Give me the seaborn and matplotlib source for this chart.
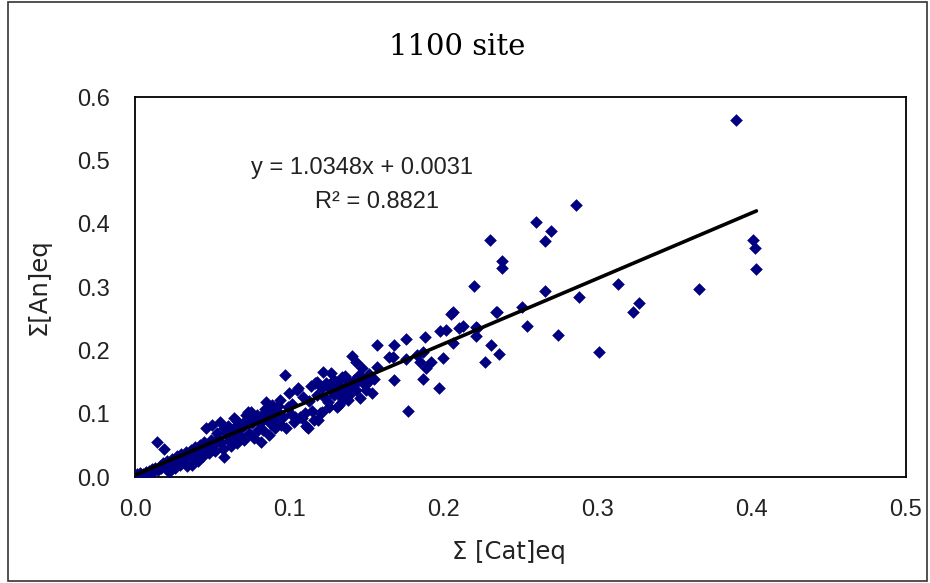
import numpy as np
import pandas as pd
import matplotlib
matplotlib.use("Agg")
import matplotlib.pyplot as plt
import seaborn as sns
from matplotlib.patches import Rectangle

# sum of cations vs sum of anions (eq)
cat_eq = [0.001, 0.002, 0.003, 0.004, 0.005, 0.006, 0.007, 0.008, 0.009, 0.010,
          0.011, 0.012, 0.013, 0.014, 0.015, 0.016, 0.017, 0.018, 0.019, 0.020,
          0.021, 0.022, 0.023, 0.024, 0.025, 0.026, 0.027, 0.028, 0.029, 0.030,
          0.031, 0.032, 0.033, 0.034, 0.035, 0.036, 0.037, 0.038, 0.039, 0.040,
          0.041, 0.042, 0.043, 0.044, 0.045, 0.046, 0.047, 0.048, 0.049, 0.050,
          0.051, 0.052, 0.053, 0.054, 0.055, 0.056, 0.057, 0.058, 0.059, 0.060,
          0.061, 0.062, 0.063, 0.064, 0.065, 0.066, 0.067, 0.068, 0.069, 0.070,
          0.071, 0.072, 0.073, 0.074, 0.075, 0.076, 0.077, 0.078, 0.079, 0.080,
          0.081, 0.082, 0.083, 0.084, 0.085, 0.086, 0.087, 0.088, 0.089, 0.090,
          0.091, 0.092, 0.094, 0.095, 0.096, 0.097, 0.098, 0.099, 0.100, 0.101,
          0.103, 0.104, 0.105, 0.106, 0.107, 0.108, 0.109, 0.110, 0.111, 0.112,
          0.114, 0.116, 0.117, 0.118, 0.119, 0.120, 0.121, 0.122, 0.123, 0.124,
          0.125, 0.126, 0.127, 0.129, 0.129, 0.131, 0.131, 0.132, 0.132, 0.134,
          0.134, 0.135, 0.136, 0.137, 0.138, 0.139, 0.140, 0.141, 0.142, 0.143,
          0.144, 0.145, 0.146, 0.147, 0.148, 0.150, 0.151, 0.154, 0.157, 0.157,
          0.165, 0.167, 0.168, 0.168, 0.176, 0.176, 0.177, 0.183, 0.185, 0.187,
          0.187, 0.188, 0.189, 0.192, 0.197, 0.198, 0.200, 0.202, 0.205, 0.206,
          0.206, 0.210, 0.213, 0.220, 0.221, 0.221, 0.222, 0.227, 0.230, 0.231,
          0.234, 0.235, 0.236, 0.238, 0.238, 0.251, 0.254, 0.260, 0.266, 0.266,
          0.270, 0.274, 0.286, 0.288, 0.301, 0.313, 0.323, 0.327, 0.366, 0.390,
          0.401, 0.402, 0.403,
          0.102, 0.113, 0.115, 0.118, 0.121, 0.126, 0.128, 0.133, 0.139, 0.143,
          0.149, 0.152, 0.155, 0.058, 0.066, 0.072, 0.083, 0.088, 0.093]
an_eq = [0.004, 0.000, 0.006, 0.002, 0.005, 0.001, 0.008, 0.004, 0.010, 0.007,
         0.013, 0.009, 0.015, 0.056, 0.011, 0.018, 0.014, 0.022, 0.045, 0.016,
         0.025, 0.008, 0.020, 0.029, 0.024, 0.014, 0.033, 0.027, 0.019, 0.036,
         0.031, 0.023, 0.039, 0.017, 0.034, 0.043, 0.019, 0.029, 0.047, 0.038,
         0.026, 0.051, 0.042, 0.033, 0.055, 0.077, 0.046, 0.038, 0.059, 0.082,
         0.050, 0.041, 0.069, 0.062, 0.087, 0.054, 0.045, 0.032, 0.070, 0.080,
         0.058, 0.049, 0.074, 0.093, 0.066, 0.054, 0.084, 0.064, 0.077, 0.080,
         0.058, 0.090, 0.103, 0.069, 0.103, 0.086, 0.062, 0.094, 0.098, 0.074,
         0.085, 0.055, 0.074, 0.108, 0.119, 0.090, 0.066, 0.100, 0.113, 0.090,
         0.078, 0.105, 0.122, 0.082, 0.095, 0.161, 0.077, 0.110, 0.132, 0.100,
         0.087, 0.095, 0.137, 0.140, 0.095, 0.093, 0.127, 0.101, 0.080, 0.077,
         0.143, 0.090, 0.148, 0.150, 0.090, 0.101, 0.102, 0.166, 0.125, 0.148,
         0.119, 0.140, 0.164, 0.130, 0.153, 0.137, 0.111, 0.145, 0.114, 0.135,
         0.158, 0.122, 0.160, 0.143, 0.122, 0.130, 0.143, 0.191, 0.153, 0.182,
         0.150, 0.161, 0.124, 0.172, 0.155, 0.137, 0.150, 0.132, 0.173, 0.208,
         0.190, 0.190, 0.208, 0.153, 0.218, 0.186, 0.105, 0.193, 0.182, 0.198,
         0.154, 0.221, 0.172, 0.181, 0.141, 0.230, 0.188, 0.232, 0.257, 0.261,
         0.212, 0.235, 0.238, 0.302, 0.223, 0.237, 0.235, 0.181, 0.375, 0.208,
         0.260, 0.261, 0.195, 0.341, 0.330, 0.268, 0.238, 0.403, 0.373, 0.294,
         0.388, 0.225, 0.430, 0.285, 0.198, 0.304, 0.260, 0.275, 0.297, 0.564,
         0.374, 0.361, 0.329,
         0.115, 0.120, 0.105, 0.130, 0.140, 0.110, 0.150, 0.128, 0.150, 0.138,
         0.145, 0.162, 0.155, 0.078, 0.088, 0.098, 0.100, 0.084, 0.112]

# Excel trendline coefficients as printed on the chart
slope = 1.0348
intercept = 0.0031
r2 = 0.8821

df = pd.DataFrame({"cat": cat_eq, "an": an_eq})

sns.set_style("white")
plt.rcParams["font.family"] = ["Liberation Sans", "DejaVu Sans"]

fig = plt.figure(figsize=(9.3, 5.83), dpi=100)
ax = fig.add_axes([135/930, 1-477/583, 771/930, 380/583])

sns.scatterplot(data=df, x="cat", y="an", marker="D", s=36, color="#000080",
                edgecolor="#000080", linewidth=0.4, ax=ax, zorder=3)

xl = np.array([min(cat_eq), max(cat_eq)])
ax.plot(xl, slope*xl + intercept, color="black", lw=2.6, zorder=4)

ax.set_xlim(0, 0.5)
ax.set_ylim(0, 0.6)
ax.set_xticks([0, 0.1, 0.2, 0.3, 0.4, 0.5])
ax.set_yticks([0, 0.1, 0.2, 0.3, 0.4, 0.5, 0.6])
ax.xaxis.set_major_formatter(matplotlib.ticker.FormatStrFormatter("%.1f"))
ax.yaxis.set_major_formatter(matplotlib.ticker.FormatStrFormatter("%.1f"))
ax.tick_params(direction="in", length=6, width=0.8, colors="black",
               labelsize=17, labelcolor="#222222")
ax.tick_params(axis="y", pad=18)
ax.tick_params(axis="x", pad=16)
for sp in ax.spines.values():
    sp.set_linewidth(1.3)
    sp.set_color("black")

ax.set_xlabel("Σ [Cat]eq", fontsize=17.5, family=["DejaVu Sans"], color="#222222")
ax.set_ylabel("Σ[An]eq", fontsize=17.5, family=["DejaVu Sans"], color="#222222")
ax.xaxis.set_label_coords(0.485, -0.165)
ax.yaxis.set_label_coords(-0.11, 0.5)

ax.text(0.294, 0.813, "y = %.4fx + %.4f" % (slope, intercept), transform=ax.transAxes,
        ha="center", va="center", fontsize=17, color="#222222")
ax.text(0.314, 0.724, "R² = %.4f" % r2, transform=ax.transAxes,
        ha="center", va="center", fontsize=17, color="#222222")

fig.text(0.492, 1-47/583, "1100 site", ha="center", va="center", fontsize=21,
         family=["DejaVu Serif"], color="black")

# chart area frame
fig.patches.append(Rectangle((8/930, 2/583), 919/930, 579/583, transform=fig.transFigure,
                             fill=False, edgecolor="#333333", lw=1.2))

fig.savefig("out.png", dpi=100)
